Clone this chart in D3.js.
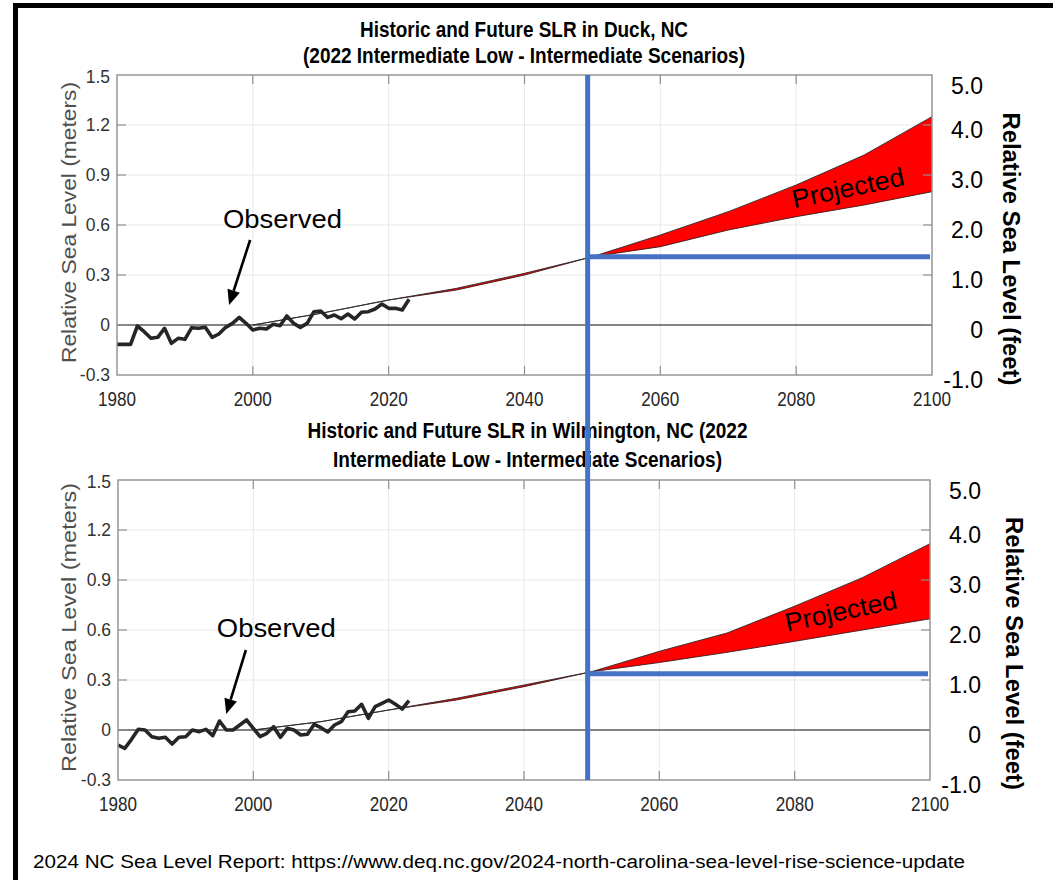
<!DOCTYPE html>
<html>
<head>
<meta charset="utf-8">
<script src="https://cdn.jsdelivr.net/npm/d3@7/dist/d3.min.js"></script>
<style>
  html, body { margin: 0; padding: 0; background: #fff; }
  svg { display: block; }
</style>
</head>
<body>
<svg id="chart" width="1053" height="880"></svg>
<script>
// ---- Data -------------------------------------------------------------
const obsYears = d3.range(1980, 2024);

// Observed relative sea level (m), Duck NC, 1980–2023
const duckObserved = [
  -0.116, -0.116, -0.116, -0.006, -0.04, -0.08, -0.074, -0.02, -0.11, -0.08,
  -0.086, -0.016, -0.02, -0.014, -0.074, -0.054, -0.014, 0.01, 0.046, 0.01,
  -0.03, -0.02, -0.024, 0.004, -0.004, 0.054, 0.01, -0.014, 0.01, 0.08,
  0.084, 0.046, 0.06, 0.038, 0.066, 0.036, 0.076, 0.08, 0.096, 0.126,
  0.10, 0.10, 0.09, 0.154
];

// Observed relative sea level (m), Wilmington NC, 1980–2023
const wilmObserved = [
  -0.09, -0.11, -0.056, 0.004, 0.0, -0.04, -0.05, -0.044, -0.084, -0.044,
  -0.04, 0.0, -0.01, 0.004, -0.034, 0.054, 0.0, 0.0, 0.03, 0.06,
  0.01, -0.04, -0.02, 0.02, -0.044, 0.01, 0.0, -0.03, -0.026, 0.034,
  0.014, -0.012, 0.03, 0.05, 0.11, 0.114, 0.154, 0.07, 0.14, 0.16,
  0.18, 0.154, 0.126, 0.176
];

// Scenario projections (m), relative to 2000
const projYears = [2000, 2010, 2020, 2030, 2040, 2050, 2060, 2070, 2080, 2090, 2100];
const duckIntLow  = [0, 0.07, 0.15, 0.21, 0.30, 0.41, 0.47, 0.57, 0.65, 0.72, 0.80];
const duckInt     = [0, 0.07, 0.15, 0.22, 0.31, 0.41, 0.54, 0.68, 0.84, 1.02, 1.25];
const wilmIntLow  = [0, 0.05, 0.12, 0.18, 0.26, 0.35, 0.405, 0.466, 0.532, 0.60, 0.667];
const wilmInt     = [0, 0.05, 0.12, 0.19, 0.27, 0.35, 0.472, 0.582, 0.743, 0.914, 1.118];

// Mid-century reference marker
const markerYear = 2049.3;
const duckMarkerLevel = 0.41;
const wilmMarkerLevel = 0.337;

// Axis ticks
const xTicks = [1980, 2000, 2020, 2040, 2060, 2080, 2100];
const meterTicks = [-0.3, 0, 0.3, 0.6, 0.9, 1.2, 1.5];
const meterTickLabels = ["-0.3", "0", "0.3", "0.6", "0.9", "1.2", "1.5"];
const feetTicks = [-1, 0, 1, 2, 3, 4, 5];
const feetTickLabels = ["-1.0", "0", "1.0", "2.0", "3.0", "4.0", "5.0"];

// ---- Layout -----------------------------------------------------------
const FONT = "'Liberation Sans', Arial, Helvetica, sans-serif";
const NARROW = "'Liberation Sans Narrow', 'Arial Narrow', 'Liberation Sans', Arial, sans-serif";
const BLUE = "#4472C4";

const panels = [
  {
    titles: ["Historic and Future SLR in Duck, NC", "(2022 Intermediate Low - Intermediate Scenarios)"],
    titleY: [36.5, 62.5], titleW: [328, 442], titleX: 524,
    left: 117, right: 932, top: 75, bottom: 375,
    obs: duckObserved, low: duckIntLow, high: duckInt, marker: duckMarkerLevel,
    arrow: { from: [1999.6, 0.51], to: [1996.5, 0.12] },
    observedAt: [1995.6, 0.58],
    projectedAt: [2087.9, 0.77],
    yLabelCenter: 222.5, yLabelLen: 281,
    fLabelCenter: 249, fLabelX: 1012
  },
  {
    titles: ["Historic and Future SLR in Wilmington, NC (2022", "Intermediate Low - Intermediate Scenarios)"],
    titleY: [438, 467], titleW: [440, 389], titleX: 527.5,
    left: 118, right: 930, top: 480, bottom: 780,
    obs: wilmObserved, low: wilmIntLow, high: wilmInt, marker: wilmMarkerLevel,
    arrow: { from: [1998.9, 0.48], to: [1996.0, 0.096] },
    observedAt: [1994.6, 0.56],
    projectedAt: [2087.1, 0.66],
    yLabelCenter: 627.5, yLabelLen: 289,
    fLabelCenter: 653.5, fLabelX: 1015
  }
];

const svg = d3.select("#chart");

// Page frame
svg.append("rect")
  .attr("x", 15.5).attr("y", 5.5)
  .attr("width", 1200).attr("height", 1000)
  .attr("fill", "#fff").attr("stroke", "#000").attr("stroke-width", 5);

const overlays = [];

panels.forEach((p, i) => {
  const g = svg.append("g");
  const x = d3.scaleLinear().domain([1980, 2100]).range([p.left, p.right]);
  const y = d3.scaleLinear().domain([-0.3, 1.5]).range([p.bottom, p.top]);
  const yf = d3.scaleLinear().domain([-1, 5]).range([p.bottom, p.top]);
  p.x = x; p.y = y;

  // Titles
  p.titles.forEach((t, k) => {
    g.append("text")
      .attr("x", p.titleX).attr("y", p.titleY[k])
      .attr("text-anchor", "middle")
      .attr("font-family", NARROW).attr("font-weight", "bold")
      .attr("font-size", 22).attr("fill", "#000")
      .attr("textLength", p.titleW[k]).attr("lengthAdjust", "spacingAndGlyphs")
      .text(t);
  });

  // Grid
  g.append("g").selectAll("line").data(xTicks.slice(1, -1)).join("line")
    .attr("x1", d => x(d)).attr("x2", d => x(d))
    .attr("y1", p.top).attr("y2", p.bottom)
    .attr("stroke", "#e8e8e8").attr("stroke-width", 1);
  g.append("g").selectAll("line").data(meterTicks.slice(1, -1).filter(d => d !== 0)).join("line")
    .attr("x1", p.left).attr("x2", p.right)
    .attr("y1", d => y(d)).attr("y2", d => y(d))
    .attr("stroke", "#e8e8e8").attr("stroke-width", 1);

  // Zero line
  g.append("line")
    .attr("x1", p.left).attr("x2", p.right)
    .attr("y1", y(0)).attr("y2", y(0))
    .attr("stroke", "#5a5a5a").attr("stroke-width", 1.6);

  // Projection band
  const proj = projYears.map((yr, k) => ({ yr, lo: p.low[k], hi: p.high[k] }));
  const area = d3.area().x(d => x(d.yr)).y0(d => y(d.lo)).y1(d => y(d.hi));
  g.append("path").datum(proj).attr("d", area)
    .attr("fill", "#ff0000").attr("stroke", "none");
  const lineLo = d3.line().x(d => x(d.yr)).y(d => y(d.lo));
  const lineHi = d3.line().x(d => x(d.yr)).y(d => y(d.hi));
  g.append("path").datum(proj).attr("d", lineLo)
    .attr("fill", "none").attr("stroke", "#3a1a1a").attr("stroke-width", 0.9);
  g.append("path").datum(proj).attr("d", lineHi)
    .attr("fill", "none").attr("stroke", "#2a2a2a").attr("stroke-width", 0.9);

  // Observed series
  const obs = obsYears.map((yr, k) => ({ yr, v: p.obs[k] }));
  g.append("path").datum(obs)
    .attr("d", d3.line().x(d => x(d.yr)).y(d => y(d.v)))
    .attr("fill", "none").attr("stroke", "#262626")
    .attr("stroke-width", 3.6).attr("stroke-linejoin", "round");

  // Axes box
  g.append("rect")
    .attr("x", p.left).attr("y", p.top)
    .attr("width", p.right - p.left).attr("height", p.bottom - p.top)
    .attr("fill", "none").attr("stroke", "#8f8f8f").attr("stroke-width", 1.4);

  // Inner tick marks
  const tk = 9;
  const ticks = g.append("g").attr("stroke", "#8f8f8f").attr("stroke-width", 1.2);
  xTicks.slice(1, -1).forEach(d => {
    ticks.append("line").attr("x1", x(d)).attr("x2", x(d)).attr("y1", p.bottom).attr("y2", p.bottom - tk);
    ticks.append("line").attr("x1", x(d)).attr("x2", x(d)).attr("y1", p.top).attr("y2", p.top + tk);
  });
  meterTicks.slice(1, -1).forEach(d => {
    ticks.append("line").attr("x1", p.left).attr("x2", p.left + tk).attr("y1", y(d)).attr("y2", y(d));
  });
  feetTicks.slice(1, -1).forEach(d => {
    ticks.append("line").attr("x1", p.right).attr("x2", p.right - tk).attr("y1", yf(d)).attr("y2", yf(d));
  });

  // X tick labels
  g.append("g").selectAll("text").data(xTicks).join("text")
    .attr("x", d => x(d)).attr("y", p.bottom + 31)
    .attr("text-anchor", "middle")
    .attr("font-family", FONT).attr("font-size", 20).attr("fill", "#262626")
    .attr("textLength", 38).attr("lengthAdjust", "spacingAndGlyphs")
    .text(d => d);

  // Left (meters) tick labels
  g.append("g").selectAll("text").data(meterTicks).join("text")
    .attr("x", p.left - 7).attr("y", (d, k) => Math.max(y(d), p.top + 2))
    .attr("dy", "0.36em")
    .attr("text-anchor", "end")
    .attr("font-family", FONT).attr("font-size", 17.5).attr("fill", "#333")
    .text((d, k) => meterTickLabels[k]);

  // Right (feet) tick labels
  g.append("g").selectAll("text").data(feetTicks).join("text")
    .attr("x", p.right + 51).attr("y", d => Math.max(yf(d) + 5, p.top + 11))
    .attr("dy", "0.36em")
    .attr("text-anchor", "end")
    .attr("font-family", FONT).attr("font-size", 23).attr("fill", "#000")
    .text((d, k) => feetTickLabels[k]);

  // Axis titles
  g.append("text")
    .attr("transform", `translate(69,${p.yLabelCenter}) rotate(-90)`)
    .attr("text-anchor", "middle").attr("dy", "0.36em")
    .attr("font-family", FONT).attr("font-size", 20).attr("fill", "#4f4f4f")
    .attr("textLength", p.yLabelLen).attr("lengthAdjust", "spacingAndGlyphs")
    .text("Relative Sea Level (meters)");
  g.append("text")
    .attr("transform", `translate(${p.fLabelX},${p.fLabelCenter}) rotate(90)`)
    .attr("text-anchor", "middle").attr("dy", "0.36em")
    .attr("font-family", FONT).attr("font-weight", "bold")
    .attr("font-size", 24).attr("fill", "#000")
    .attr("textLength", 273).attr("lengthAdjust", "spacingAndGlyphs")
    .text("Relative Sea Level (feet)");

  // "Observed" annotation with arrow
  g.append("text")
    .attr("x", x(p.observedAt[0])).attr("y", y(p.observedAt[1]))
    .attr("font-family", FONT).attr("font-size", 26).attr("fill", "#000")
    .attr("textLength", 119).attr("lengthAdjust", "spacingAndGlyphs")
    .text("Observed");
  const [ax0, ay0] = [x(p.arrow.from[0]), y(p.arrow.from[1])];
  const [ax1, ay1] = [x(p.arrow.to[0]), y(p.arrow.to[1])];
  const ang = Math.atan2(ay1 - ay0, ax1 - ax0);
  const headLen = 15, headW = 6.5;
  const bx = ax1 - headLen * Math.cos(ang), by = ay1 - headLen * Math.sin(ang);
  g.append("line")
    .attr("x1", ax0).attr("y1", ay0).attr("x2", bx).attr("y2", by)
    .attr("stroke", "#000").attr("stroke-width", 2.6);
  g.append("path")
    .attr("d", `M${ax1},${ay1} L${bx + headW * Math.sin(ang)},${by - headW * Math.cos(ang)} L${bx - headW * Math.sin(ang)},${by + headW * Math.cos(ang)} Z`)
    .attr("fill", "#000");

  // "Projected" label on the band
  g.append("text")
    .attr("transform", `translate(${x(p.projectedAt[0])},${y(p.projectedAt[1])}) rotate(-11.8)`)
    .attr("text-anchor", "middle")
    .attr("font-family", FONT).attr("font-size", 26).attr("fill", "#000")
    .attr("textLength", 114).attr("lengthAdjust", "spacingAndGlyphs")
    .text("Projected");

  overlays.push(p);
});

// Mid-century marker lines (drawn over both panels)
const pTop = overlays[0], pBot = overlays[1];
const mx = pTop.x(markerYear);
overlays.forEach(p => {
  svg.append("line")
    .attr("x1", mx).attr("x2", p.right - 2)
    .attr("y1", p.y(p.marker)).attr("y2", p.y(p.marker))
    .attr("stroke", BLUE).attr("stroke-width", 5);
});
svg.append("line")
  .attr("x1", mx).attr("x2", mx)
  .attr("y1", pTop.top).attr("y2", pBot.bottom)
  .attr("stroke", BLUE).attr("stroke-width", 5);

// Source note
svg.append("text")
  .attr("x", 33).attr("y", 868)
  .attr("font-family", NARROW).attr("font-size", 18).attr("fill", "#000")
  .attr("textLength", 932).attr("lengthAdjust", "spacingAndGlyphs")
  .text("2024 NC Sea Level Report: https://www.deq.nc.gov/2024-north-carolina-sea-level-rise-science-update");
</script>
</body>
</html>
